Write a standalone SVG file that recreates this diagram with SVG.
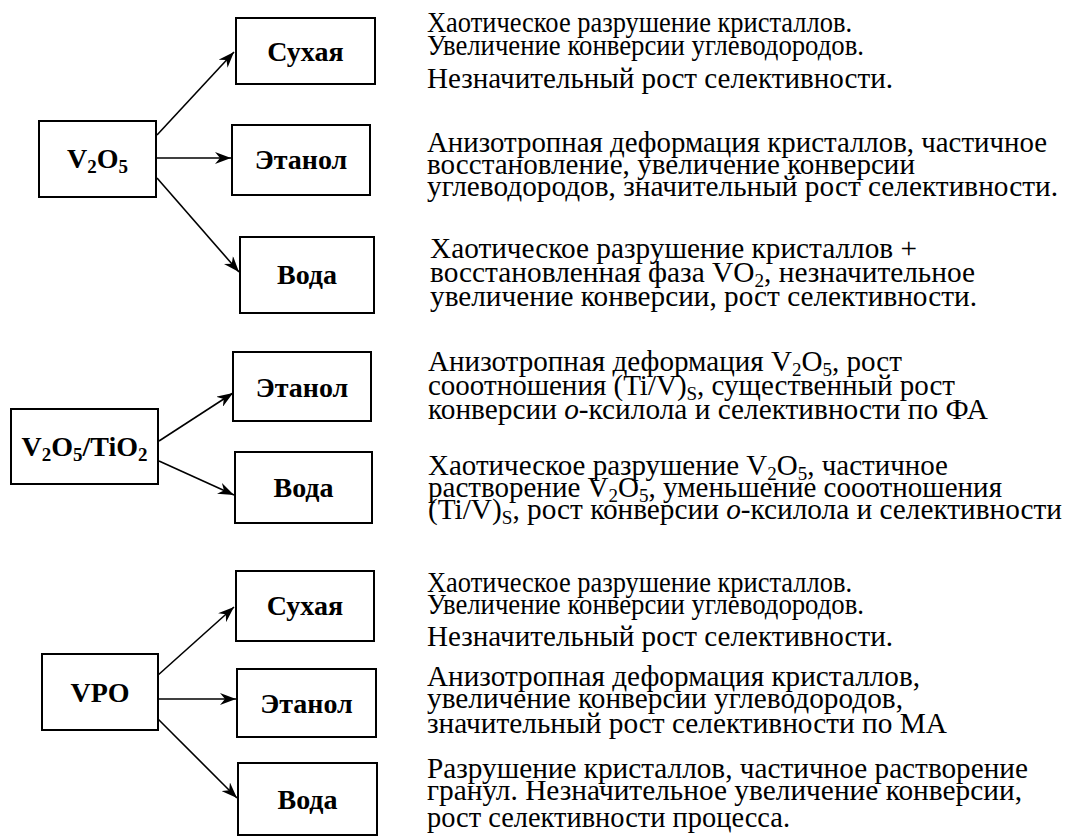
<svg xmlns="http://www.w3.org/2000/svg" width="1066" height="836" viewBox="0 0 1066 836">
<style>
.box{fill:#fff;stroke:#000;stroke-width:2}
.lbl{font-family:'Liberation Serif',serif;font-size:28px;font-weight:bold;text-anchor:middle;fill:#000}
.t{font-family:'Liberation Serif',serif;font-size:29px;fill:#000}
.sub{font-size:19px}
.con{stroke:#000;stroke-width:1.6;fill:none;marker-end:url(#ah)}
</style>
<defs>
<marker id="ah" markerWidth="18" markerHeight="12" refX="16" refY="6" orient="auto" markerUnits="userSpaceOnUse"><path d="M0,0 L16,6 L0,12 L5,6 Z" fill="#000"/></marker>
</defs>
<g id="connectors">
<line class="con" x1="157" y1="135" x2="234" y2="52"/>
<line class="con" x1="157" y1="158" x2="231" y2="158"/>
<line class="con" x1="157" y1="178" x2="239" y2="272"/>
<line class="con" x1="159" y1="441" x2="233" y2="393"/>
<line class="con" x1="159" y1="461" x2="234" y2="495"/>
<line class="con" x1="157" y1="676" x2="234" y2="607"/>
<line class="con" x1="158" y1="699" x2="236" y2="699"/>
<line class="con" x1="157" y1="718" x2="237" y2="798"/>
</g>
<g id="n-v2o5"><rect class="box" x="39" y="121" width="117" height="76"/><text class="lbl" x="97.5" y="168">V<tspan class="sub" dy="5">2</tspan><tspan dy="-5">O</tspan><tspan class="sub" dy="5">5</tspan></text></g>
<g id="n-dry1"><rect class="box" x="236" y="18" width="139" height="66"/><text class="lbl" x="305.5" y="61">Сухая</text></g>
<g id="n-eth1"><rect class="box" x="232" y="125" width="138" height="70"/><text class="lbl" x="301" y="169">Этанол</text></g>
<g id="n-wat1"><rect class="box" x="240" y="237" width="134" height="76"/><text class="lbl" x="307" y="284">Вода</text></g>
<g id="n-v2o5tio2"><rect class="box" x="11" y="409" width="147" height="75"/><text class="lbl" x="84.5" y="456">V<tspan class="sub" dy="5">2</tspan><tspan dy="-5">O</tspan><tspan class="sub" dy="5">5</tspan><tspan dy="-5">/TiO</tspan><tspan class="sub" dy="5">2</tspan></text></g>
<g id="n-eth2"><rect class="box" x="233" y="352" width="138" height="69"/><text class="lbl" x="302" y="397">Этанол</text></g>
<g id="n-wat2"><rect class="box" x="235" y="452" width="137" height="71"/><text class="lbl" x="303.5" y="497">Вода</text></g>
<g id="n-vpo"><rect class="box" x="42" y="654" width="116" height="76"/><text class="lbl" x="100" y="702">VPO</text></g>
<g id="n-dry3"><rect class="box" x="236" y="571" width="138" height="70"/><text class="lbl" x="305" y="615">Сухая</text></g>
<g id="n-eth3"><rect class="box" x="237" y="669" width="139" height="68"/><text class="lbl" x="306.5" y="713">Этанол</text></g>
<g id="n-wat3"><rect class="box" x="238" y="763" width="139" height="72"/><text class="lbl" x="307.5" y="809">Вода</text></g>
<g id="desc">
<text class="t" x="427" y="32" textLength="425" lengthAdjust="spacingAndGlyphs">Хаотическое разрушение кристаллов.</text>
<text class="t" x="427" y="55" textLength="437" lengthAdjust="spacingAndGlyphs">Увеличение конверсии углеводородов.</text>
<text class="t" x="427" y="88" textLength="466" lengthAdjust="spacingAndGlyphs">Незначительный рост селективности.</text>
<text class="t" x="427" y="152" textLength="620" lengthAdjust="spacingAndGlyphs">Анизотропная деформация кристаллов, частичное</text>
<text class="t" x="427" y="174" textLength="488" lengthAdjust="spacingAndGlyphs">восстановление, увеличение конверсии</text>
<text class="t" x="427" y="196" textLength="631" lengthAdjust="spacingAndGlyphs">углеводородов, значительный рост селективности.</text>
<text class="t" x="430" y="258" textLength="487" lengthAdjust="spacingAndGlyphs">Хаотическое разрушение кристаллов +</text>
<text class="t" x="430" y="282" textLength="545" lengthAdjust="spacingAndGlyphs">восстановленная фаза VO<tspan class="sub" dy="5">2</tspan><tspan dy="-5">, незначительное</tspan></text>
<text class="t" x="430" y="306" textLength="547" lengthAdjust="spacingAndGlyphs">увеличение конверсии, рост селективности.</text>
<text class="t" x="428" y="371" textLength="474" lengthAdjust="spacingAndGlyphs">Анизотропная деформация V<tspan class="sub" dy="5">2</tspan><tspan dy="-5">O</tspan><tspan class="sub" dy="5">5</tspan><tspan dy="-5">, рост</tspan></text>
<text class="t" x="428" y="395" textLength="527" lengthAdjust="spacingAndGlyphs">сооотношения (Ti/V)<tspan class="sub" dy="5">S</tspan><tspan dy="-5">, существенный рост</tspan></text>
<text class="t" x="428" y="419" textLength="560" lengthAdjust="spacingAndGlyphs">конверсии <tspan font-style="italic">о</tspan>-ксилола и селективности по ФА</text>
<text class="t" x="428" y="475" textLength="520" lengthAdjust="spacingAndGlyphs">Хаотическое разрушение V<tspan class="sub" dy="5">2</tspan><tspan dy="-5">O</tspan><tspan class="sub" dy="5">5</tspan><tspan dy="-5">, частичное</tspan></text>
<text class="t" x="428" y="497" textLength="574" lengthAdjust="spacingAndGlyphs">растворение V<tspan class="sub" dy="5">2</tspan><tspan dy="-5">O</tspan><tspan class="sub" dy="5">5</tspan><tspan dy="-5">, уменьшение сооотношения</tspan></text>
<text class="t" x="428" y="519" textLength="634" lengthAdjust="spacingAndGlyphs">(Ti/V)<tspan class="sub" dy="5">S</tspan><tspan dy="-5">, рост конверсии </tspan><tspan font-style="italic">о</tspan>-ксилола и селективности</text>
<text class="t" x="427" y="592" textLength="425" lengthAdjust="spacingAndGlyphs">Хаотическое разрушение кристаллов.</text>
<text class="t" x="427" y="614" textLength="437" lengthAdjust="spacingAndGlyphs">Увеличение конверсии углеводородов.</text>
<text class="t" x="427" y="646" textLength="466" lengthAdjust="spacingAndGlyphs">Незначительный рост селективности.</text>
<text class="t" x="427" y="686" textLength="493" lengthAdjust="spacingAndGlyphs">Анизотропная деформация кристаллов,</text>
<text class="t" x="427" y="708" textLength="476" lengthAdjust="spacingAndGlyphs">увеличение конверсии углеводородов,</text>
<text class="t" x="427" y="733" textLength="520" lengthAdjust="spacingAndGlyphs">значительный рост селективности по МА</text>
<text class="t" x="427" y="778" textLength="601" lengthAdjust="spacingAndGlyphs">Разрушение кристаллов, частичное растворение</text>
<text class="t" x="427" y="800" textLength="595" lengthAdjust="spacingAndGlyphs">гранул. Незначительное увеличение конверсии,</text>
<text class="t" x="427" y="827" textLength="363" lengthAdjust="spacingAndGlyphs">рост селективности процесса.</text>
</g>
</svg>
